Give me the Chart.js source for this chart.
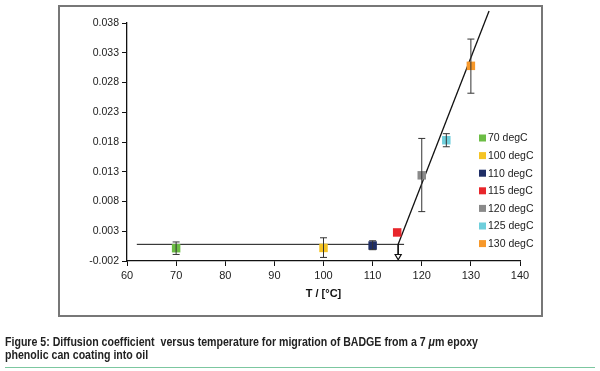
<!DOCTYPE html>
<html>
<head>
<meta charset="utf-8">
<script src="https://cdn.jsdelivr.net/npm/chart.js@4.4.1/dist/chart.umd.min.js"></script>
<style>
  html, body { margin: 0; padding: 0; background: #fff; }
  body { width: 600px; height: 371px; position: relative; overflow: hidden; }
  #frame { position: absolute; left: 58px; top: 5px; width: 481px; height: 308px; border: 2px solid #777; }
  #wrap { position: absolute; left: 0; top: 0; width: 600px; height: 371px; }
  .cap { position: absolute; left: 5px; white-space: nowrap; transform-origin: 0 50%;
    font-family: "Liberation Sans", Arial, sans-serif;
    font-weight: bold; font-size: 12.5px; line-height: 14px; color: #222; }
  #rule { position: absolute; left: 5px; top: 367px; width: 590px; height: 0; border-top: 1.5px solid #7cc7a0; }
</style>
</head>
<body>
<div id="frame"></div>
<div id="wrap"><canvas id="grafica"></canvas></div>
<div class="cap" id="cap1" style="top:335px">Figure 5: Diffusion coefficient &nbsp;versus temperature for migration of BADGE from a 7 <i>μ</i>m epoxy</div>
<div class="cap" id="cap2" style="top:348px">phenolic can coating into oil</div>
<div id="rule"></div>
<script>
// datos
const temperaturas = [70, 100, 110, 115, 120, 125, 130];
const etiquetas = ['70 degC', '100 degC', '110 degC', '115 degC', '120 degC', '125 degC', '130 degC'];
const difusion = [0.00015, 0.0002, 0.0006, 0.0028, 0.0124, 0.0183, 0.0308];
const error_bajo = [-0.0009, -0.0014, -0.0001, null, 0.0063, 0.0172, 0.0262];
const error_alto = [0.0012, 0.0019, 0.0014, null, 0.0186, 0.0194, 0.0353];
const colores = ['#6cbd45', '#f5c425', '#1f2e66', '#e8262b', '#8a8a8a', '#6fcfdc', '#f7982a'];

const linea_base_x = [62, 116.4];
const linea_base_y = [0.0008, 0.0008];
const linea_pend_x = [115.2, 133.7];
const linea_pend_y = [0.0008, 0.0400];
const flecha_x = [115.2, 115.2];
const flecha_y = [0.0008, -0.0012];

const ticks_x = [60, 70, 80, 90, 100, 110, 120, 130, 140];
const ticks_y = [-0.002, 0.003, 0.008, 0.013, 0.018, 0.023, 0.028, 0.033, 0.038];

const fuente = 'Liberation Sans, Arial, sans-serif';

// pie de figura: ajustar al ancho del original (letra condensada)
const cap1 = document.getElementById('cap1');
const escala = 473 / cap1.getBoundingClientRect().width;
cap1.style.transform = 'scaleX(' + escala + ')';
document.getElementById('cap2').style.transform = 'scaleX(' + escala + ')';

// barras de error
const barrasError = {
  id: 'barrasError',
  afterDatasetsDraw(chart) {
    const ctx = chart.ctx;
    const sx = chart.scales.x, sy = chart.scales.y;
    ctx.save();
    ctx.strokeStyle = '#333';
    ctx.lineWidth = 1;
    temperaturas.forEach((t, i) => {
      if (error_bajo[i] === null) return;
      const x = sx.getPixelForValue(t);
      const y1 = sy.getPixelForValue(error_bajo[i]);
      const y2 = sy.getPixelForValue(error_alto[i]);
      ctx.beginPath();
      ctx.moveTo(x, y1); ctx.lineTo(x, y2);
      ctx.moveTo(x - 3.5, y1); ctx.lineTo(x + 3.5, y1);
      ctx.moveTo(x - 3.5, y2); ctx.lineTo(x + 3.5, y2);
      ctx.stroke();
    });
    ctx.restore();
  }
};

// leyenda dentro del area
const leyenda = {
  id: 'leyenda',
  afterDraw(chart) {
    const ctx = chart.ctx;
    ctx.save();
    ctx.font = '10.5px ' + fuente;
    ctx.textBaseline = 'middle';
    etiquetas.forEach((e, i) => {
      const y = 138 + i * 17.6;
      ctx.fillStyle = colores[i];
      ctx.fillRect(479, y - 3.5, 7, 7);
      ctx.fillStyle = '#222';
      ctx.fillText(e, 488, y + 0.5);
    });
    ctx.restore();
  }
};

const puntos = temperaturas.map((t, i) => ({
  label: etiquetas[i],
  data: [{x: t, y: difusion[i]}],
  backgroundColor: colores[i],
  borderColor: colores[i],
  pointStyle: 'rect',
  pointRadius: 6,
  pointBorderWidth: 0,
  showLine: false,
  order: 1
}));

const lineas = [
  {label: 'base', data: linea_base_x.map((x, i) => ({x, y: linea_base_y[i]})), borderColor: '#111', borderWidth: 1, pointRadius: 0, showLine: true, order: 2},
  {label: 'pendiente', data: linea_pend_x.map((x, i) => ({x, y: linea_pend_y[i]})), borderColor: '#111', borderWidth: 1.3, pointRadius: 0, showLine: true, clip: false, order: 2},
  {label: 'flecha', data: flecha_x.map((x, i) => ({x, y: flecha_y[i]})), borderColor: '#111', backgroundColor: '#fff', borderWidth: 1, pointStyle: 'triangle', pointRotation: 180, pointRadius: [0, 3.5], pointBorderWidth: 1.2, showLine: true, order: 0}
];

new Chart(document.getElementById('grafica').getContext('2d'), {
  type: 'scatter',
  data: { datasets: [...puntos, ...lineas] },
  plugins: [barrasError, leyenda],
  options: {
    responsive: true,
    maintainAspectRatio: false,
    animation: false,
    layout: { padding: { left: 67, top: 23, right: 80, bottom: 68 } },
    plugins: {
      legend: { display: false },
      tooltip: { enabled: false }
    },
    scales: {
      x: {
        type: 'linear',
        min: 60, max: 140,
        afterFit: s => { s.height = 42; },
        afterBuildTicks: s => { s.ticks = ticks_x.map(v => ({value: v})); },
        grid: { drawOnChartArea: false, color: '#111', tickLength: 5, tickWidth: 1 },
        border: { color: '#111', width: 1.3 },
        ticks: { color: '#222', font: { family: fuente, size: 11 }, padding: 3, maxRotation: 0 },
        title: { display: true, text: 'T / [°C]', color: '#111', font: { family: fuente, size: 11, weight: 'bold' }, padding: { top: 4, bottom: 2 } }
      },
      y: {
        type: 'linear',
        min: -0.002, max: 0.038,
        afterFit: s => { s.width = 60; },
        afterBuildTicks: s => { s.ticks = ticks_y.map(v => ({value: v})); },
        grid: { drawOnChartArea: false, color: '#111', tickLength: 5, tickWidth: 1 },
        border: { color: '#111', width: 1.3 },
        ticks: { color: '#222', font: { family: fuente, size: 10.5 }, padding: 3, callback: v => v.toFixed(3) }
      }
    }
  }
});
</script>
</body>
</html>
